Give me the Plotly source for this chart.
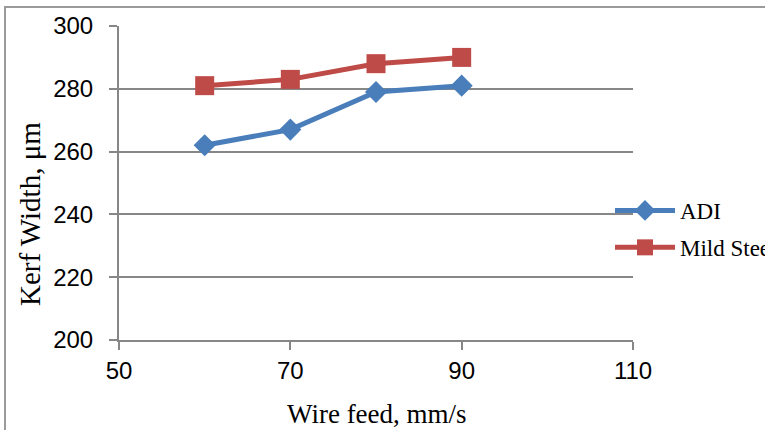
import plotly.graph_objects as go

wire_feed = [60, 70, 80, 90]
adi_kerf = [262, 267, 279, 281]
mild_steel_kerf = [281, 283, 288, 290]

x_ticks = [50, 70, 90, 110]
y_ticks = [200, 220, 240, 260, 280, 300]

W, H = 765, 430
L, R, T, B = 119, 132, 26, 90
pw, ph = W - L - R, H - T - B


def px_x(px):
    return (px - L) / pw


def px_y(py):
    return (H - B - py) / ph


fig = go.Figure()
fig.add_trace(go.Scatter(
    x=wire_feed, y=adi_kerf, name="ADI", mode="lines+markers",
    legendgroup="adi",
    line=dict(color="#4A7EBB", width=5),
    marker=dict(symbol="diamond", size=17, color="#4A7EBB"),
))
fig.add_trace(go.Scatter(
    x=wire_feed, y=mild_steel_kerf, name="Mild Steel", mode="lines+markers",
    legendgroup="mild",
    line=dict(color="#BE4B48", width=5),
    marker=dict(symbol="square", size=19, color="#BE4B48"),
))

axis_color = "#878787"
tick_font = dict(family="Liberation Sans, sans-serif", size=24, color="black")
x_title_font = dict(family="Liberation Serif", size=27, color="black")
y_title_font = dict(family="Liberation Serif", size=29, color="black")

fig.update_layout(
    width=W, height=H,
    margin=dict(l=L, r=R, t=T, b=B, autoexpand=False),
    paper_bgcolor="white", plot_bgcolor="white",
    showlegend=True,
    legend=dict(
        x=px_x(610), y=px_y(189), xanchor="left", yanchor="top",
        font=dict(family="Liberation Serif", size=23, color="black"),
        bgcolor="rgba(0,0,0,0)", itemwidth=60, tracegroupgap=4,
        traceorder="grouped",
    ),
    xaxis=dict(
        range=[50, 110], tickvals=x_ticks, ticktext=[str(v) for v in x_ticks],
        showgrid=False, showline=True, linecolor=axis_color, linewidth=2,
        ticks="outside", ticklen=8, tickcolor=axis_color, tickwidth=2,
        tickfont=tick_font, zeroline=False,
    ),
    yaxis=dict(
        range=[200, 300], tickvals=y_ticks,
        showgrid=True, gridcolor=axis_color, gridwidth=2,
        showline=True, linecolor=axis_color, linewidth=2,
        ticks="outside", ticklen=8, tickcolor=axis_color, tickwidth=2,
        ticklabelstandoff=11,
        tickfont=tick_font, zeroline=False,
    ),
    annotations=[
        dict(text="Wire feed, mm/s", xref="paper", yref="paper",
             x=px_x(377), y=px_y(414), xanchor="center", yanchor="middle",
             showarrow=False, font=x_title_font),
        dict(text="Kerf Width, μm", xref="paper", yref="paper",
             x=px_x(30), y=px_y(214), xanchor="center", yanchor="middle",
             textangle=-90, showarrow=False, font=y_title_font),
    ],
    shapes=[
        dict(type="rect", xref="paper", yref="paper",
             x0=px_x(5), x1=px_x(W + 20),
             y0=px_y(H + 20), y1=px_y(7),
             line=dict(color="#9A9A9A", width=2), fillcolor="rgba(0,0,0,0)",
             layer="below"),
    ],
)

fig.write_html("out.html")
